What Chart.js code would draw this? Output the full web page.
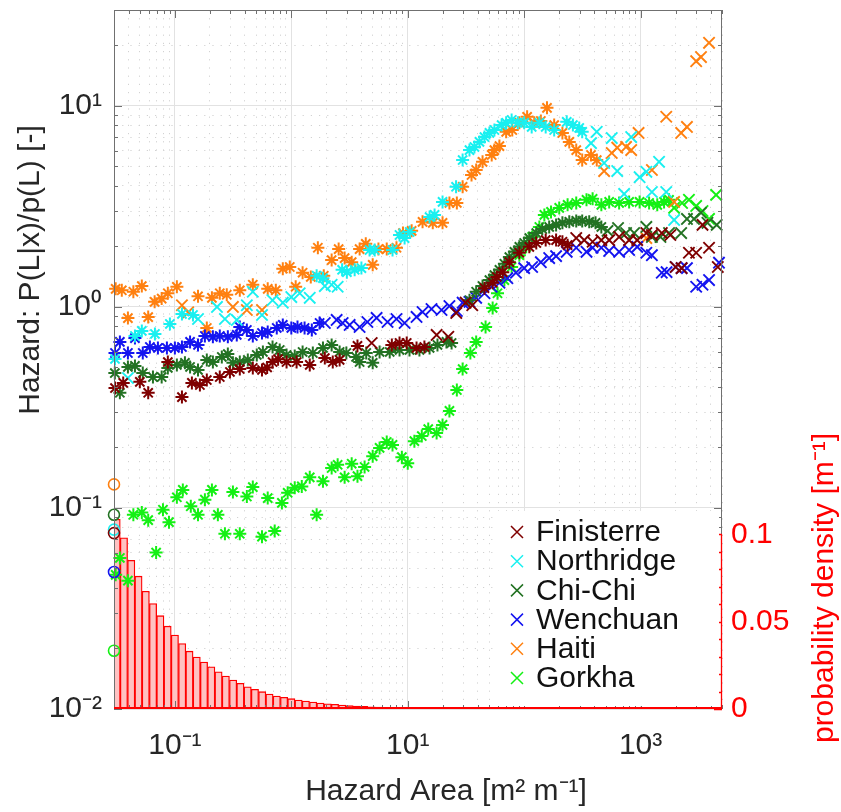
<!DOCTYPE html>
<html><head><meta charset="utf-8">
<script src="https://cdn.jsdelivr.net/npm/chart.js@4/dist/chart.umd.min.js"></script>
<style>html,body{margin:0;padding:0;background:#fff}#wrap{width:841px;height:812px}</style>
</head><body><div id="wrap"><canvas id="c" width="841" height="812"></canvas></div>
<script>
// ---------------- DATA ----------------
const eventNames = ['Finisterre','Northridge','Chi-Chi','Wenchuan','Haiti','Gorkha'];
const eventColors = ['#7f0000','#19f0f0','#237223','#1414f0','#ff8010','#14f014'];

// Finisterre
const finStarX = [0.0306,0.036,0.05,0.059,0.087,0.115,0.14,0.164,0.188,0.243,0.297,0.361,0.467,0.56,0.62,0.69,0.77,0.91,1.11,1.44,1.94,2.27,2.6,3.7,7.3,8.5,9.8,11.9,13.9,45.6,53.6,58.2,65.5,74.6,90.9,110.7,127,153,188,213,236];
const finStarY = [0.395,0.419,0.424,0.374,0.532,0.356,0.419,0.409,0.433,0.448,0.475,0.491,0.497,0.486,0.50,0.532,0.55,0.532,0.532,0.515,0.557,0.532,0.545,0.64,0.647,0.662,0.662,0.625,0.632,1.24,1.32,1.41,1.49,1.67,1.86,1.99,2.08,2.15,2.15,2.11,2.03];
const finCrossX = [4.9,17.7,22.3,26.1,31.4,35.8,280,328,387,460,537,654,797,935,1120,1250,1520,1800,2000,2250,2600,3000,3400,3870,4600];
const finCrossY = [0.662,0.726,0.71,0.933,1.05,1.02,2.2,2.15,2.11,2.15,2.15,2.23,2.15,2.15,2.33,2.28,2.33,2.28,1.58,1.56,1.86,1.86,2.56,1.97,1.58];

// Northridge
const norStarX = [0.0306,0.0454,0.052,0.0674,0.0906,0.115,0.143,1.65,1.87,2.73,3.0,3.5,4.0,4.7,5.2,7.4,8.5,9.4,10.4,15.4,17,19.9,26,29.6,33.9,37.4,41.3,45.6,50.3,55.5,64,70,78,88,100,116,135,153,181,232,262,297,315];
const norStarY = [0.551,0.717,0.76,0.734,0.823,0.923,0.912,1.43,1.39,1.53,1.49,1.53,1.56,1.92,1.92,1.92,2.28,2.2,2.36,2.8,2.87,3.33,3.96,5.38,6.03,6.25,6.62,7.0,7.34,7.59,8.03,8.24,8.51,8.24,8.24,7.86,8.24,7.86,7.59,8.33,8.03,7.77,7.43];
const norCrossX = [0.0395,0.158,0.23,0.269,0.34,0.415,0.467,0.56,0.69,0.845,1.0,1.18,1.44,1.94,2.22,2.5,375,420,486,565,630,722,830,980,1120,1250,1440,1660,1940];
const norCrossY = [0.443,0.871,1.0,0.871,0.862,1.02,1.19,0.912,1.08,1.05,1.12,1.17,1.11,1.27,1.29,1.26,6.53,7.43,5.20,6.92,4.74,3.65,7.0,4.42,4.70,3.73,5.27,3.73,2.71];

// Chi-Chi
const chiStarX = [0.0305,0.0337,0.0395,0.0454,0.053,0.0648,0.077,0.087,0.104,0.122,0.135,0.158,0.188,0.212,0.253,0.285,0.315,0.361,0.423,0.505,0.57,0.69,0.795,0.91,1.07,1.25,1.53,1.87,2.22,2.6,2.97,3.6,3.86,4.4,5.0,5.73,7.0,8.5,10.35,12.6,15.4,18,21.5,23.8,33.9,38.7,43.9,50.3,55.5,61.3,67.6,74.6,82.4,90.9,100,110.7,127,143,164,188,213,244,280,315,362,410,460];
const chiStarY = [0.469,0.374,0.503,0.509,0.469,0.448,0.448,0.497,0.515,0.527,0.503,0.486,0.545,0.532,0.564,0.583,0.527,0.532,0.545,0.577,0.597,0.632,0.611,0.577,0.57,0.597,0.59,0.625,0.647,0.597,0.59,0.564,0.532,0.59,0.527,0.597,0.597,0.611,0.611,0.611,0.625,0.647,0.67,0.662,1.08,1.19,1.27,1.36,1.44,1.53,1.64,1.77,1.88,1.99,2.08,2.20,2.33,2.44,2.50,2.56,2.62,2.65,2.68,2.68,2.65,2.62,2.50];
const chiCrossX = [520,640,750,880,1120,1250,1480,1755,2230,2500,2875,3300,3750,4500];
const chiCrossY = [2.39,2.47,2.33,2.33,2.50,2.23,2.23,2.33,2.33,2.74,2.74,2.94,2.62,2.56];

// Wenchuan
const wenStarX = [0.0306,0.0337,0.0395,0.0454,0.053,0.061,0.0715,0.0854,0.1,0.115,0.135,0.158,0.181,0.212,0.243,0.285,0.34,0.361,0.415,0.467,0.56,0.627,0.75,0.845,1.0,1.13,1.3,1.5,1.75];
const wenStarY = [0.59,0.67,0.59,0.70,0.59,0.632,0.625,0.625,0.625,0.632,0.67,0.647,0.717,0.71,0.717,0.71,0.726,0.795,0.768,0.717,0.742,0.751,0.786,0.814,0.786,0.795,0.786,0.768,0.832];
const wenCrossX = [1.94,2.45,2.76,3.17,3.86,4.5,5.4,6.7,8.0,9.4,11.9,13.4,16,19.5,22.8,26.4,29.6,33.9,38.7,45.6,52.6,61.3,71.7,85,100,117,139,164,188,232,280,343,387,460,537,654,797,935,1120,1250,1520,1670,2000,2250,2500,3000,3400,3870,4710];
const wenCrossY = [0.832,0.862,0.832,0.814,0.795,0.842,0.882,0.842,0.871,0.832,0.892,0.944,0.977,0.966,1.01,0.955,1.05,1.06,1.11,1.17,1.26,1.32,1.39,1.48,1.56,1.58,1.67,1.75,1.79,1.88,1.97,1.88,1.97,1.97,1.90,1.88,1.92,1.99,1.86,1.81,1.48,1.49,1.58,1.56,1.56,1.26,1.29,1.36,1.66];

// Haiti
const haiStarX = [0.031,0.035,0.0395,0.044,0.052,0.059,0.067,0.077,0.087,0.104,0.158,0.188,0.208,0.243,0.279,0.361,0.467,0.627,0.736,0.845,0.97,1.09,1.25,1.47,1.69,1.9,2.22,2.55,2.87,3.3,3.86,4.36,5.0,5.6,6.6,8.0,9.1,10.8,13.4,16.4,19.9,22.8,26.4,29.6,35.3,38.7,43.9,52.6,55.5,61.3,70,79,90.9,106,122,139,157,181,213,244,280,315,375,420];
const haiStarY = [1.23,1.21,0.88,1.19,1.27,0.89,1.06,1.10,1.17,1.26,1.13,0.786,1.11,1.17,1.15,1.21,1.29,1.23,1.21,1.55,1.58,1.26,1.48,1.41,1.97,1.43,1.71,1.94,1.75,1.67,1.94,2.06,1.62,1.94,1.94,1.97,2.33,2.39,2.65,2.62,2.62,3.29,3.29,3.96,4.53,4.80,5.27,5.70,6.03,6.31,7.43,7.59,8.24,8.83,8.24,8.42,9.78,8.03,7.34,6.62,6.03,5.38,5.70,5.38];
const haiCrossX = [0.115,0.13,0.315,0.415,0.56,486,565,630,750,830,960,1120,1250,1660,1940,2230,2500,3000,3300,3870];
const haiCrossY = [1.02,0.94,1.0,0.966,0.966,4.74,5.83,6.2,6.25,6.03,7.34,2.20,4.80,8.83,3.33,7.34,7.86,16.7,17.5,20.6];

// Gorkha
const gorStarX = [0.031,0.0337,0.0395,0.044,0.052,0.059,0.069,0.079,0.089,0.104,0.117,0.137,0.158,0.181,0.208,0.234,0.269,0.315,0.361,0.415,0.467,0.56,0.627,0.72,0.83,0.93,1.07,1.23,1.44,1.65,1.87,2.22,2.5,2.87,3.3,3.7,4.26,5.0,5.73,6.6,7.4,8.9,10,11.4,13.2,15,17.7,19.9,22.8,26.4,29.6,34.5,38.7,46.6,53.6,59,67.6,78,90.9,104,117,135,149,170,200,236,280,343,387,460,537,654,797,980,1183,1390,1590,1755];
const gorStarY = [0.0465,0.0564,0.0435,0.0925,0.095,0.087,0.06,0.098,0.085,0.113,0.123,0.102,0.0925,0.11,0.123,0.0925,0.0744,0.12,0.0744,0.114,0.127,0.072,0.112,0.0768,0.106,0.119,0.126,0.128,0.142,0.0925,0.136,0.158,0.164,0.142,0.166,0.144,0.16,0.181,0.199,0.213,0.206,0.179,0.167,0.215,0.228,0.247,0.236,0.259,0.304,0.386,0.491,0.59,0.67,0.795,0.989,1.17,1.36,1.58,1.81,1.99,2.23,2.50,2.87,2.97,3.11,3.22,3.29,3.41,3.45,3.22,3.33,3.29,3.33,3.33,3.29,3.22,3.33,3.41];
const gorCrossX = [1940,2270,2600,3000,3400,3870,4450];
const gorCrossY = [3.11,3.29,3.41,3.18,3.0,2.74,3.61];

// first-bin values (open circles at the left edge), same order as eventNames
const circleX = 0.03;
const circleY = [0.075,0.078,0.0925,0.048,0.131,0.0195];

// histogram: bin centres and probability density [m^-1]
const binCenters = [0.0316,0.0365,0.0422,0.0487,0.0562,0.0649,0.0750,0.0866,0.1,0.1155,0.1334,0.1540,0.1778,0.2054,0.2371,0.2738,0.3162,0.3652,0.4217,0.4870,0.5623,0.6494,0.7499,0.8660,1,1.155,1.334,1.540,1.778,2.054,2.371,2.738,3.162,3.652,4.217,4.870,5.623,6.494,7.499,8.660,10,11.55,13.34,15.40,17.78,20.54,23.71,27.38,31.62,36.52,42.17,48.70,56.23,64.94,74.99,86.60,100,115.5,133.4,154.0,177.8,205.4,237.1,273.8,316.2,365.2,421.7,487.0,562.3,649.4,749.9,866.0,1000,1155,1334,1540,1778,2054,2371,2738,3162,3652,4217,4870];
const density = [0.1086,0.098,0.0851,0.076,0.0674,0.0603,0.0534,0.0474,0.0423,0.0375,0.0331,0.0297,0.0269,0.0242,0.0213,0.0189,0.0166,0.0147,0.0127,0.0113,0.0099,0.0086,0.0074,0.0067,0.0059,0.0051,0.0046,0.004,0.0034,0.003,0.0027,0.0023,0.0019,0.0017,0.0015,0.0013,0.0011,0.001,0.0009,0.0008,0.0007,0.0006,0.0005,0.0005,0.0004,0.0004,0.0003,0.0003,0.0003,0.0002,0.0002,0.0002,0.0002,0.0002,0.0001,0.0001,0.0001,0.0001,0.0001,0.0001,0.0001,0.0001,0.0001,0.0001,0.0001,0.0001,0.0001,0.0001,0.0001,0.0001,0.0001,0.0001,0.0001,0.0001,0.0001,0.0001,0.0001,0.0001,0.0001,0.0001,0.0001,0.0001,0.0001,0.0001];

// axis ranges & labels
const xMin = 0.03, xMax = 5000, yMin = 0.01, yMax = 30, y2Max = 0.4;
const xLabelValues = [0.1, 10, 1000];
const xLabelTexts = ['10\u207B\u00B9', '10\u00B9', '10\u00B3'];
const yLabelValues = [0.01, 0.1, 1, 10];
const yLabelTexts = ['10\u207B\u00B2', '10\u207B\u00B9', '10\u2070', '10\u00B9'];
const y2TickValues = [0,0.01,0.02,0.03,0.04,0.05,0.06,0.07,0.08,0.09,0.1];
const y2LabelValues = [0, 0.05, 0.1];
const y2LabelTexts = ['0', '0.05', '0.1'];
const xTitle = 'Hazard Area [m\u00B2 m\u207B\u00B9]';
const yTitle = 'Hazard: P(L|x)/p(L) [-]';
const y2Title = 'probability density [m\u207B\u00B9]';

// ---------------- CHART ----------------
const FONT = "'Liberation Sans', Arial, Helvetica, sans-serif";
const TXT = '#262626';
function logTicks(min, max){
  const t = [];
  for (let d = -3; d <= 4; d++) for (let m = 1; m <= 9; m++) {
    const v = +(m * Math.pow(10, d)).toPrecision(6);
    if (v >= min * 0.9999 && v <= max * 1.0001) t.push(v);
  }
  return t;
}
const isPow10 = v => Math.abs(Math.log10(v) - Math.round(Math.log10(v))) < 1e-9;
function labelFor(v, vals, texts){
  for (let i = 0; i < vals.length; i++) if (Math.abs(v - vals[i]) <= Math.abs(vals[i]) * 1e-9 + 1e-12) return texts[i];
  return '';
}
const stars = [[finStarX,finStarY],[norStarX,norStarY],[chiStarX,chiStarY],[wenStarX,wenStarY],[haiStarX,haiStarY],[gorStarX,gorStarY]];
const crosses = [[finCrossX,finCrossY],[norCrossX,norCrossY],[chiCrossX,chiCrossY],[wenCrossX,wenCrossY],[haiCrossX,haiCrossY],[gorCrossX,gorCrossY]];

const datasets = [];
eventNames.forEach((name, k) => {
  const col = eventColors[k];
  const common = {type:'scatter', showLine:false, clip:false, order:1, yAxisID:'y', xAxisID:'x',
    pointBorderColor:col, pointBackgroundColor:col, borderColor:col, backgroundColor:col, pointHoverRadius:0};
  datasets.push(Object.assign({}, common, {label:name+' (*)', pointStyle:'star', pointRadius:6.5, pointBorderWidth:2,
    data: stars[k][0].map((x, i) => ({x, y: stars[k][1][i]}))}));
  datasets.push(Object.assign({}, common, {label:name, legendMarker:true, pointStyle:'crossRot', pointRadius:8, pointBorderWidth:1.9,
    data: crosses[k][0].map((x, i) => ({x, y: crosses[k][1][i]}))}));
  datasets.push(Object.assign({}, common, {label:name+' (o)', pointStyle:'circle', pointRadius:5.5, pointBorderWidth:1.6,
    pointBackgroundColor:'rgba(0,0,0,0)', data:[{x:circleX, y:circleY[k]}]}));
});
datasets.push({type:'bar', label:'density', xAxisID:'x', yAxisID:'y2', order:10, histogram:true,
  data: binCenters.map((x, i) => ({x, y: density[i]})),
  backgroundColor:'#ffc2c2', borderColor:'#ff0000', borderWidth:1.3, borderSkipped:false,
  barThickness:'flex', barPercentage:1, categoryPercentage:1});

const minorDash = [1.2, 7];
const gridColor = ctx => (ctx.tick && isPow10(ctx.tick.value)) ? '#e2e2e2' : '#d2d2d2';
const gridDash = ctx => (ctx.tick && isPow10(ctx.tick.value)) ? [] : minorDash;

const framePlugin = {
  id:'frame',
  afterDatasetsDraw(chart){
    const c = chart.ctx, a = chart.chartArea;
    const sx = chart.scales.x, sy = chart.scales.y, s2 = chart.scales.y2;
    const y2top = s2.getPixelForValue(0.1);
    c.save();
    c.lineWidth = 1;
    // box
    c.strokeStyle = '#707070';
    c.strokeRect(Math.round(a.left)+0.5, Math.round(a.top)+0.5, Math.round(a.right-a.left)-1, Math.round(a.bottom-a.top)-1);
    // x ticks (bottom + top), inward
    c.beginPath();
    sx.ticks.forEach(t => {
      const p = Math.round(sx.getPixelForValue(t.value)) + 0.5;
      const L = isPow10(t.value) ? 8 : 4;
      c.moveTo(p, a.bottom); c.lineTo(p, a.bottom - L);
      c.moveTo(p, a.top); c.lineTo(p, a.top + L);
    });
    // y ticks left, right (gray above the red axis part)
    sy.ticks.forEach(t => {
      const p = Math.round(sy.getPixelForValue(t.value)) + 0.5;
      const L = isPow10(t.value) ? 8 : 4;
      c.moveTo(a.left, p); c.lineTo(a.left + L, p);
      if (p < y2top - 2) { c.moveTo(a.right, p); c.lineTo(a.right - L, p); }
    });
    c.stroke();
    // bottom edge of the histogram bars (zero line of the right axis), red
    const hist = chart.getDatasetMeta(chart.data.datasets.findIndex(d => d.histogram));
    const bars = hist.data;
    const base = s2.getPixelForValue(0);
    c.strokeStyle = '#ff0000';
    c.lineWidth = 1.8;
    c.beginPath();
    c.moveTo(Math.max(a.left, bars[0].x - bars[0].width / 2), base - 1);
    c.lineTo(Math.min(a.right, bars[bars.length - 1].x + bars[bars.length - 1].width / 2), base - 1);
    c.stroke();
    // red right axis
    c.lineWidth = 1.3;
    c.beginPath();
    c.moveTo(a.right - 0.5, y2top); c.lineTo(a.right - 0.5, a.bottom);
    s2.ticks.forEach(t => {
      const p = Math.round(s2.getPixelForValue(t.value)) + 0.5;
      const L = labelFor(t.value, y2LabelValues, y2LabelTexts) !== '' ? 8 : 4;
      c.moveTo(a.right, p); c.lineTo(a.right - L, p);
    });
    c.stroke();
    // legend
    const bx = a.right - 225, by = a.bottom - 198;
    c.fillStyle = '#ffffff';
    c.fillRect(bx, by, 222, 195);
    const items = chart.data.datasets.filter(d => d.legendMarker);
    c.font = '30px ' + FONT;
    c.textBaseline = 'middle';
    c.textAlign = 'left';
    items.forEach((d, i) => {
      const yy = by + 21 + i * 29.2, xx = bx + 20;
      c.strokeStyle = d.pointBorderColor;
      c.lineWidth = 1.5;
      c.beginPath();
      c.moveTo(xx - 6, yy - 6); c.lineTo(xx + 6, yy + 6);
      c.moveTo(xx - 6, yy + 6); c.lineTo(xx + 6, yy - 6);
      c.stroke();
      c.fillStyle = '#111111';
      c.fillText(d.label, bx + 39, yy + 1);
    });
    c.restore();
  },
  afterDraw(chart){
    const c = chart.ctx;
    c.save();
    c.font = '30px ' + FONT;
    c.textAlign = 'center';
    c.textBaseline = 'middle';
    c.fillStyle = TXT;
    c.fillText(xTitle, 446, 792);
    c.save(); c.translate(31, 270); c.rotate(-Math.PI/2); c.fillText(yTitle, 0, 0); c.restore();
    c.fillStyle = '#ff0000';
    c.save(); c.translate(825, 588); c.rotate(-Math.PI/2); c.fillText(y2Title, 0, 0); c.restore();
    c.restore();
  }
};

new Chart(document.getElementById('c'), {
  type:'scatter',
  data:{datasets},
  plugins:[framePlugin],
  options:{
    responsive:false, devicePixelRatio:1, animation:false, events:[],
    layout:{padding:{top:10, left:0, right:0, bottom:0}},
    plugins:{legend:{display:false}, tooltip:{enabled:false}, title:{display:false}},
    scales:{
      x:{type:'logarithmic', position:'bottom', min:xMin, max:xMax, offset:false,
        afterBuildTicks: s => { s.ticks = logTicks(xMin, xMax).map(v => ({value:v, major:isPow10(v)})); },
        afterFit: s => { s.height = 103; s.paddingLeft = 0; s.paddingRight = 0; },
        grid:{offset:false, drawTicks:false, color:gridColor, lineWidth:1},
        border:{display:false, dash:gridDash},
        ticks:{autoSkip:false, maxRotation:0, minRotation:0, padding:19, color:TXT, font:{family:FONT, size:30},
          callback: v => labelFor(v, xLabelValues, xLabelTexts)}},
      y:{type:'logarithmic', position:'left', min:yMin, max:yMax,
        afterBuildTicks: s => { s.ticks = logTicks(yMin, yMax).map(v => ({value:v, major:isPow10(v)})); },
        afterFit: s => { s.width = 114; s.paddingTop = 0; s.paddingBottom = 0; },
        grid:{drawTicks:false, color:gridColor, lineWidth:1},
        border:{display:false, dash:gridDash},
        ticks:{autoSkip:false, padding:12, color:TXT, font:{family:FONT, size:30},
          callback: v => labelFor(v, yLabelValues, yLabelTexts)}},
      y2:{type:'linear', position:'right', min:0, max:y2Max,
        afterBuildTicks: s => { s.ticks = y2TickValues.map(v => ({value:v})); },
        afterFit: s => { s.width = 119; s.paddingTop = 0; s.paddingBottom = 0; },
        grid:{display:false, drawOnChartArea:false, drawTicks:false},
        border:{display:false},
        ticks:{autoSkip:false, padding:9, color:'#ff0000', font:{family:FONT, size:30},
          callback: v => labelFor(v, y2LabelValues, y2LabelTexts)}}
    }
  }
});
</script>
</body></html>
